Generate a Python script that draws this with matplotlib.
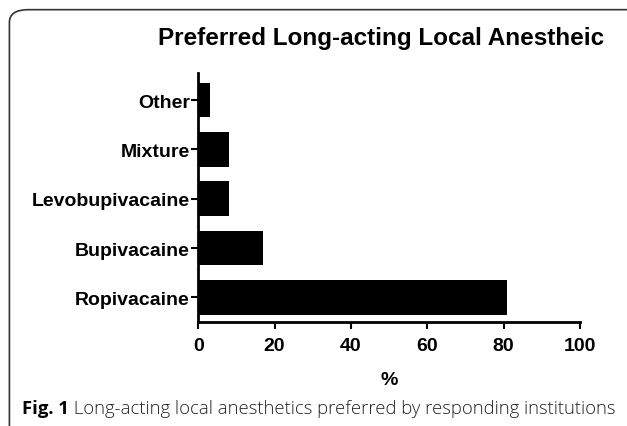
import matplotlib
matplotlib.use("Agg")
import matplotlib.pyplot as plt
from matplotlib.patches import FancyBboxPatch

categories = ["Ropivacaine", "Bupivacaine", "Levobupivacaine", "Mixture", "Other"]
percent = [81, 17, 8, 8, 3]
x_ticks = [0, 20, 40, 60, 80, 100]

title = "Preferred Long-acting Local Anestheic"
caption_bold = "Fig. 1"
caption_rest = " Long-acting local anesthetics preferred by responding institutions"

plt.rcParams['font.family'] = ['Liberation Sans', 'DejaVu Sans']

fig = plt.figure(figsize=(6.27, 4.27), dpi=100)

# rounded panel frame around the figure
frame = FancyBboxPatch((0.015, -0.05), 1.1, 1.025, boxstyle="round,pad=0,rounding_size=0.03",
                       transform=fig.transFigure, facecolor="none", edgecolor="#333333",
                       linewidth=1.2, zorder=0)
fig.patches.append(frame)

ax = fig.add_axes([0.316, 0.2436, 0.609, 0.583])
ax.set_facecolor("none")
ypos = list(range(len(categories)))
ax.barh(ypos, percent, height=0.7, color="black")

ax.set_xlim(0, 100)
ax.set_ylim(-0.5, 4.55)
ax.set_xticks(x_ticks)
ax.set_yticks(ypos)
ax.set_yticklabels(categories)
ax.set_xlabel("%", fontsize=14, fontweight="bold", labelpad=12)

for s in ["top", "right"]:
    ax.spines[s].set_visible(False)
for s in ["left", "bottom"]:
    ax.spines[s].set_linewidth(2)
ax.tick_params(axis="both", direction="out", length=5, width=1.5, labelsize=14, pad=1)
ax.tick_params(axis="x", pad=6)
for lbl in ax.get_xticklabels() + ax.get_yticklabels():
    lbl.set_fontweight("bold")

fig.text(0.608, 0.91, title, ha="center", va="center", fontsize=17.5, fontweight="bold")

t1 = fig.text(0.035, 0.03, caption_bold, ha="left", va="baseline", fontsize=13.3,
              fontweight="bold", family=["Open Sans", "DejaVu Sans"])
ax.annotate(caption_rest, xy=(1, 0), xycoords=t1, va="bottom", ha="left",
            fontsize=13.3, family=["Open Sans", "DejaVu Sans"], fontweight="light",
            color="#222222", annotation_clip=False)

fig.savefig("out.png", dpi=100)
